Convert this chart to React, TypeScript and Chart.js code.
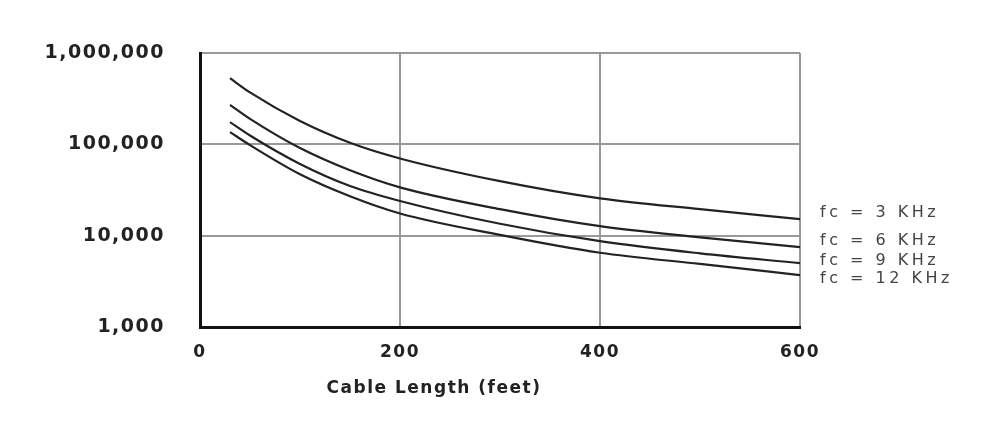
import React, { useEffect, useRef } from "react";
import { Chart, registerables } from "chart.js";

Chart.register(...registerables);

const lengths = [30, 50, 100, 150, 200, 300, 400, 500, 600];
const fc3 = [530000, 370000, 180000, 104000, 70000, 39500, 25600, 19500, 15200];
const fc6 = [270000, 190000, 91000, 52000, 33800, 19500, 12700, 9600, 7500];
const fc9 = [175000, 125000, 61000, 35000, 24000, 13500, 8700, 6400, 5000];
const fc12 = [136000, 98000, 47000, 27000, 17500, 10200, 6500, 4900, 3700];
const seriesLabels = ["fc = 3 KHz", "fc = 6 KHz", "fc = 9 KHz", "fc = 12 KHz"];
const labelOffsets = [-6, -6, -2, 4];
const yTicks = [1000, 10000, 100000, 1000000];
const xTitle = "Cable Length (feet)";

export default function App() {
  const ref = useRef<HTMLCanvasElement>(null);
  useEffect(() => {
    document.body.style.margin = "0";
    const series = [fc3, fc6, fc9, fc12];
    const spacingPlugin = {
      id: "spacing",
      beforeDraw(chart: any) {
        chart.ctx.letterSpacing = "1.5px";
      },
      afterDraw(chart: any) {
        const ctx = chart.ctx;
        ctx.save();
        ctx.letterSpacing = "3.5px";
        ctx.font = "16px 'DejaVu Sans'";
        ctx.fillStyle = "#444";
        ctx.textAlign = "left";
        ctx.textBaseline = "middle";
        const xs = chart.scales.x;
        const ys = chart.scales.y;
        series.forEach((s, i) => {
          const yv = ys.getPixelForValue(s[s.length - 1]) + labelOffsets[i];
          ctx.fillText(seriesLabels[i], xs.right + 20, yv);
        });
        ctx.letterSpacing = "1.5px";
        ctx.font = "bold 17px 'DejaVu Sans'";
        ctx.fillStyle = "#222";
        ctx.textAlign = "center";
        ctx.fillText(xTitle, xs.left + (xs.right - xs.left) * 0.39, 389);
        ctx.restore();
        ctx.letterSpacing = "0px";
      },
    };
    const chart = new Chart(ref.current!, {
      type: "line",
      data: {
        datasets: series.map((s, i) => ({
          label: seriesLabels[i],
          data: lengths.map((x, j) => ({ x, y: s[j] })),
          borderColor: "#222",
          borderWidth: 2.2,
          pointRadius: 0,
          fill: false,
          cubicInterpolationMode: "monotone" as const,
        })),
      },
      options: {
        responsive: false,
        animation: false,
        layout: { padding: { top: 53, right: 200, left: 0, bottom: 0 } },
        plugins: { legend: { display: false }, tooltip: { enabled: false } },
        scales: {
          x: {
            type: "linear",
            min: 0,
            max: 600,
            ticks: {
              stepSize: 200,
              padding: 15,
              color: "#222",
              font: { family: "'DejaVu Sans'", weight: "bold", size: 17 },
            },
            grid: { color: "#999", lineWidth: 2, drawTicks: false },
            border: { color: "#111", width: 3 },
            afterFit(scale: any) {
              scale.height = 103;
            },
          },
          y: {
            type: "logarithmic",
            min: 1000,
            max: 1000000,
            afterBuildTicks(scale: any) {
              scale.ticks = yTicks.map((v) => ({ value: v, major: true }));
            },
            ticks: {
              padding: 35,
              color: "#222",
              font: { family: "'DejaVu Sans'", weight: "bold", size: 19 },
              callback: (v: any) => Number(v).toLocaleString("en-US"),
            },
            grid: { color: "#999", lineWidth: 2, drawTicks: false },
            border: { color: "#111", width: 3 },
            afterFit(scale: any) {
              scale.width = 200;
            },
          },
        },
      },
      plugins: [spacingPlugin],
    });
    return () => chart.destroy();
  }, []);
  return <canvas ref={ref} width={1000} height={430} style={{ display: "block" }} />;
}
